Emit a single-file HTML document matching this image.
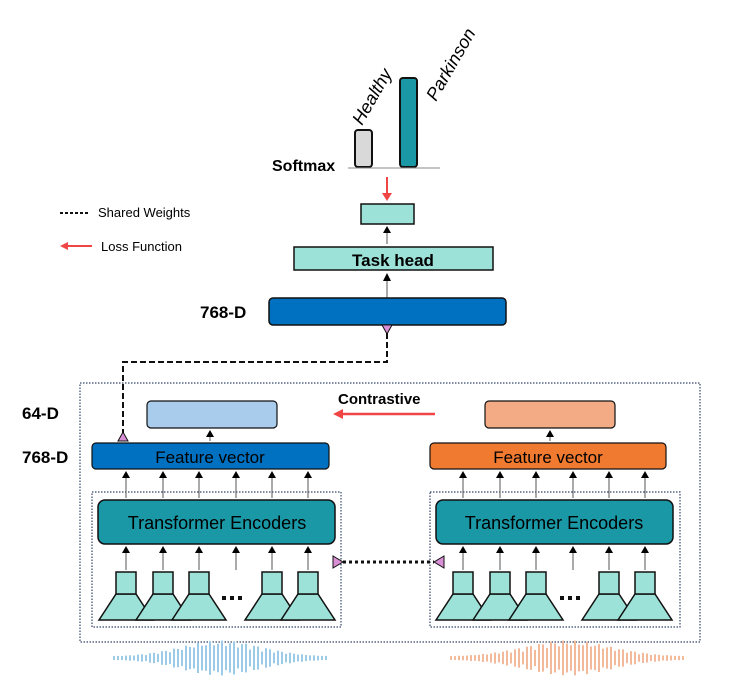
<!DOCTYPE html>
<html><head><meta charset="utf-8"><style>body{margin:0;background:#fff}svg{display:block}text{font-family:"Liberation Sans",sans-serif}</style></head><body>
<svg id="s" width="733" height="695" viewBox="0 0 733 695" xmlns="http://www.w3.org/2000/svg">
<rect x="355" y="130" width="17" height="37" rx="3" fill="#d9d9d9" stroke="#111" stroke-width="2"/>
<rect x="400" y="78" width="17" height="89" rx="3" fill="#1a98a6" stroke="#111" stroke-width="2"/>
<line x1="348" y1="168" x2="440" y2="168" stroke="#888" stroke-width="1"/>
<text x="272" y="171" font-size="16" font-weight="bold">Softmax</text>
<text transform="translate(362,126) rotate(-60)" font-size="18" font-style="italic">Healthy</text>
<text transform="translate(436,102) rotate(-60)" font-size="18" font-style="italic">Parkinson</text>
<line x1="387" y1="177" x2="387" y2="194" stroke="#f04545" stroke-width="2"/>
<path d="M382,193 L387,201 L392,193z" fill="#f04545"/>
<rect x="361" y="204" width="53" height="20" fill="#9de2d8" stroke="#111" stroke-width="1.5"/>
<line x1="387" y1="244" x2="387" y2="232" stroke="#555" stroke-width="1"/><path d="M383,233 L387,226 L391,233z"/>
<rect x="294" y="247" width="199" height="23" fill="#9de2d8" stroke="#111" stroke-width="1.5"/>
<text x="393" y="266" font-size="17" font-weight="bold" text-anchor="middle">Task head</text>
<line x1="387" y1="298" x2="387" y2="280" stroke="#555" stroke-width="1"/><path d="M383,281 L387,273 L391,281z"/>
<rect x="269" y="298" width="237" height="27" rx="4" fill="#0070c0" stroke="#111" stroke-width="1.5"/>
<text x="200" y="318" font-size="17" font-weight="bold">768-D</text>
<line x1="60" y1="213" x2="90" y2="213" stroke="#111" stroke-width="2" stroke-dasharray="3,2"/>
<text x="98" y="217" font-size="13">Shared Weights</text>
<line x1="66" y1="246" x2="92" y2="246" stroke="#f04545" stroke-width="2"/><path d="M60,246 L68,242 L68,250z" fill="#f04545"/>
<text x="101" y="251" font-size="13">Loss Function</text>
<path d="M387,333 L387,362 L123,362 L123,434" fill="none" stroke="#111" stroke-width="2" stroke-dasharray="6,3"/>
<path d="M382,325 L392,325 L387,334z" fill="#d98fd6" stroke="#111" stroke-width="1"/>
<path d="M118,441 L128,441 L123,432z" fill="#d98fd6" stroke="#111" stroke-width="1"/>
<rect x="80" y="383" width="620" height="259" fill="none" stroke="#34456a" stroke-width="1.2" stroke-dasharray="1.5,1.5"/>
<text x="22" y="419" font-size="17" font-weight="bold">64-D</text>
<text x="22" y="463" font-size="17" font-weight="bold">768-D</text>
<rect x="147" y="401" width="130" height="27" rx="4" fill="#a9cbec" stroke="#111" stroke-width="1.2"/>
<rect x="485" y="401" width="130" height="27" rx="4" fill="#f3ab86" stroke="#111" stroke-width="1.2"/>
<text x="338" y="404" font-size="15" font-weight="bold">Contrastive</text>
<line x1="342" y1="414" x2="435" y2="414" stroke="#f04545" stroke-width="2.5"/><path d="M333,414 L343,409 L343,419z" fill="#f04545"/>
<line x1="210" y1="441" x2="210" y2="436" stroke="#555"/><path d="M206,437 L210,430 L214,437z"/>
<line x1="550" y1="441" x2="550" y2="436" stroke="#555"/><path d="M546,437 L550,430 L554,437z"/>
<rect x="92" y="443" width="237" height="26" rx="4" fill="#0070c0" stroke="#111" stroke-width="1.2"/>
<text x="210" y="463" font-size="17" text-anchor="middle">Feature vector</text>
<rect x="430" y="443" width="236" height="26" rx="4" fill="#f07a30" stroke="#111" stroke-width="1.2"/>
<text x="548" y="463" font-size="17" text-anchor="middle">Feature vector</text>
<rect x="92" y="492" width="249" height="135" fill="none" stroke="#34456a" stroke-width="1.2" stroke-dasharray="1.5,1.5"/>
<rect x="430" y="492" width="250" height="135" fill="none" stroke="#34456a" stroke-width="1.2" stroke-dasharray="1.5,1.5"/>
<rect x="98" y="500" width="237" height="44" rx="7" fill="#1a98a6" stroke="#111" stroke-width="1.5"/>
<text x="217" y="529" font-size="18" text-anchor="middle">Transformer Encoders</text>
<rect x="436" y="500" width="237" height="44" rx="7" fill="#1a98a6" stroke="#111" stroke-width="1.5"/>
<text x="554" y="529" font-size="18" text-anchor="middle">Transformer Encoders</text>
<line x1="343" y1="562" x2="434" y2="562" stroke="#111" stroke-width="3" stroke-dasharray="3,3"/>
<path d="M333,556 L333,568 L343,562z" fill="#d98fd6" stroke="#111" stroke-width="1"/>
<path d="M444,556 L444,568 L434,562z" fill="#d98fd6" stroke="#111" stroke-width="1"/>
<g id="dyn"></g>
</svg>
<script>
var g=document.getElementById('dyn'),h='';
function arrows(xs,y1,y2){xs.forEach(function(x){h+='<line x1="'+x+'" y1="'+y2+'" x2="'+x+'" y2="'+(y1+6)+'" stroke="#555"/><path d="M'+(x-4)+','+(y1+7)+' L'+x+','+y1+' L'+(x+4)+','+(y1+7)+'z"/>';});}
var L=[126,163,199,236,272,308],R=[463,500,536,573,609,645];
arrows(L,471,498);arrows(R,471,498);arrows(L,546,570);arrows(R,546,570);
function spk(c){h+='<path d="M'+(c-27)+',620 L'+(c+27)+',620 L'+(c+10)+',594 L'+(c-10)+',594z" fill="#9de2d8" stroke="#111" stroke-width="1.5"/><rect x="'+(c-10)+'" y="572" width="20" height="22" fill="#9de2d8" stroke="#111" stroke-width="1.5"/>';}
[126,163,199,272,308,463,500,536,609,645].forEach(spk);
[[222,237],[560,575]].forEach(function(d){for(var i=0;i<3;i++)h+='<rect x="'+(d[0]+i*8)+'" y="596" width="4" height="4" fill="#111"/>';});
function wave(x0,x1,col){var cx=(x0+x1)/2,w=(x1-x0)/2;for(var x=x0;x<=x1;x+=4){var t=(x-cx)/w;var a=Math.exp(-t*t*3.5)*(0.5+0.5*Math.abs(Math.sin(x*1.3)))*16+1.5;h+='<rect x="'+x.toFixed(1)+'" y="'+(658-a).toFixed(1)+'" width="2" height="'+(2*a).toFixed(1)+'" fill="'+col+'"/>';}}
wave(113,328,'#9ccbe8');wave(450,684,'#f2b99b');
g.innerHTML=h;
</script>
</body></html>
